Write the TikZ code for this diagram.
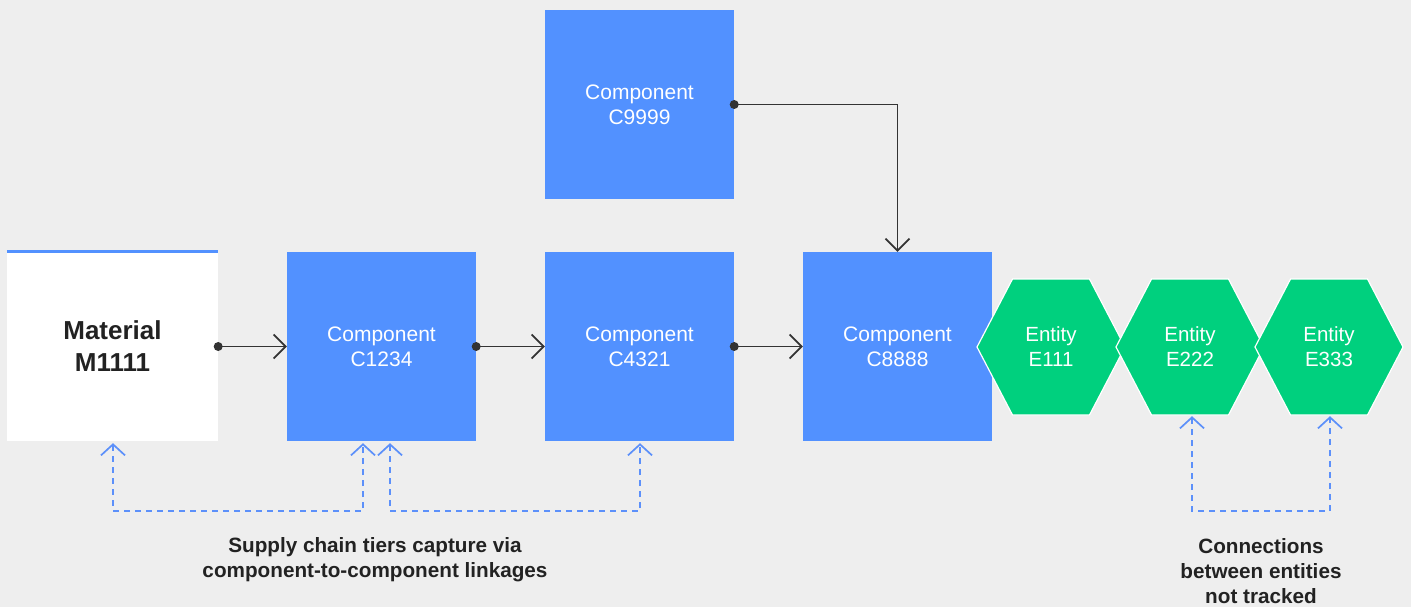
\documentclass[tikz,border=0pt]{standalone}
\usepackage{fontspec}
\setmainfont{Liberation Sans}
\usetikzlibrary{arrows.meta}
\definecolor{bg}{HTML}{EEEEEE}
\definecolor{cblue}{HTML}{5291FF}
\definecolor{cgreen}{HTML}{00D07E}
\definecolor{darkc}{HTML}{333333}
\definecolor{dblue}{HTML}{5C90FA}
\definecolor{txtc}{HTML}{222222}
\begin{document}
\begin{tikzpicture}[x=1pt,y=-1pt,
  comp/.style={fill=cblue, minimum width=189pt, minimum height=189pt, inner sep=0pt,
    text=white, align=center, font=\fontsize{21}{25}\selectfont},
  matbox/.style={fill=white, minimum width=211pt, minimum height=189pt, inner sep=0pt,
    text=txtc, align=center, font=\bfseries\fontsize{26}{32}\selectfont},
  hexlbl/.style={minimum width=148pt, minimum height=136pt, inner sep=0pt,
    text=white, align=center, font=\fontsize{20.5}{25}\selectfont},
  hexfill/.style={fill=cgreen, draw=white, line width=1.2pt, line join=miter},
  flow/.style={draw=darkc, line width=1.9pt, -{Straight Barb[length=12pt,width=24pt,line width=1.7pt]}},
  dotc/.style={fill=darkc},
  dashlink/.style={draw=dblue, line width=1.9pt, dash pattern=on 6pt off 5pt,
    {Straight Barb[length=11pt,width=24pt,line width=1.7pt]}-{Straight Barb[length=11pt,width=24pt,line width=1.7pt]}},
  note/.style={text=txtc, align=center, font=\bfseries\fontsize{20.7}{25}\selectfont}
]
\useasboundingbox[fill=bg] (0,0) rectangle (1411,607);

\node[matbox] (mat) at (112.5,346.5) {Material\\M1111};
\draw[cblue, line width=3pt] (mat.north west) -- (mat.north east);

\node[comp] (c1) at (381.5,346.5) {Component\\C1234};
\node[comp] (c2) at (639.5,346.5) {Component\\C4321};
\node[comp] (c3) at (897.5,346.5) {Component\\C8888};
\node[comp] (c9) at (639.5,104.5) {Component\\C9999};

\foreach \cx/\nm/\lab in {1051/e1/E111, 1190/e2/E222, 1329/e3/E333}{
  \fill[hexfill] (\cx-74,347) -- (\cx-38.5,279) -- (\cx+38.5,279) -- (\cx+74,347)
     -- (\cx+38.5,415) -- (\cx-38.5,415) -- cycle;
  \node[hexlbl] (\nm) at (\cx,347) {Entity\\\lab};
}

% solid flows
\draw[flow] (mat.east) -- (c1.west);
\draw[flow] (c1.east) -- (c2.west);
\draw[flow] (c2.east) -- (c3.west);
\draw[flow] (c9.east) -| (c3.north);
\foreach \n in {mat,c1,c2,c9}{ \fill[dotc] (\n.east) circle (4.5pt); }

% dashed links
\draw[dashlink] ([xshift=0.5pt,yshift=-2pt]mat.south) -- ++(0,68) -| ([xshift=-18.5pt,yshift=-2pt]c1.south);
\draw[dashlink] ([xshift=8.5pt,yshift=-2pt]c1.south) -- ++(0,68) -| ([xshift=0.5pt,yshift=-2pt]c2.south);
\draw[dashlink] ([xshift=2pt,yshift=-1pt]e2.south) -- ++(0,95) -| ([xshift=1pt,yshift=-1pt]e3.south);

\node[note] (n1) at (375,559.5) {Supply chain tiers capture via\\component-to-component linkages};
\node[note] (n2) at (1261,571) {Connections\\between entities\\not tracked};
\end{tikzpicture}
\end{document}
